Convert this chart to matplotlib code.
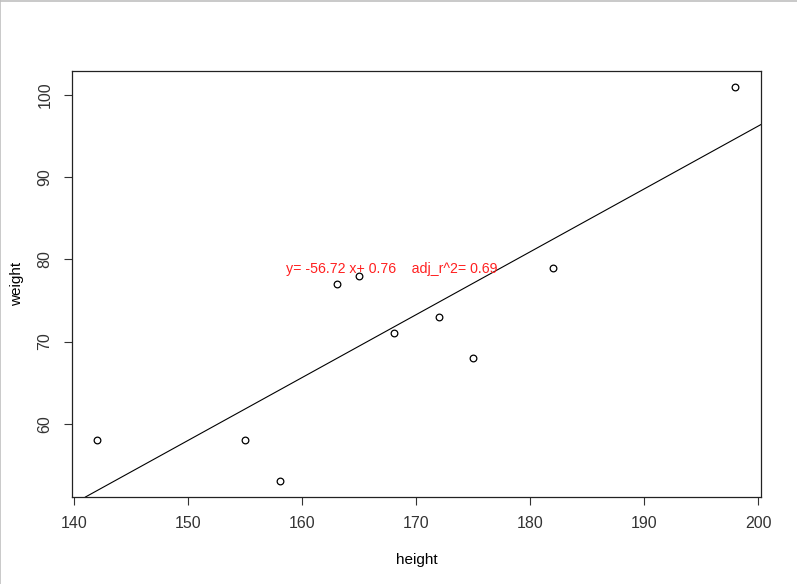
import matplotlib.pyplot as plt
import numpy as np

plt.rcParams['font.family'] = ['Liberation Sans', 'DejaVu Sans']

# height / weight data
height = np.array([142, 155, 158, 163, 165, 168, 172, 175, 182, 198])
weight = np.array([58, 58, 53, 77, 78, 71, 73, 68, 79, 101])

xticks = [140, 150, 160, 170, 180, 190, 200]
yticks = [60, 70, 80, 90, 100]

# linear fit
b1, b0 = np.polyfit(height, weight, 1)
yhat = b0 + b1 * height
ss_res = np.sum((weight - yhat) ** 2)
ss_tot = np.sum((weight - weight.mean()) ** 2)
n = len(height)
r2 = 1 - ss_res / ss_tot
adj_r2 = 1 - (1 - r2) * (n - 1) / (n - 2)

fig = plt.figure(figsize=(7.97, 5.84), dpi=100)
ax = fig.add_axes([71.7 / 797, 1 - 497 / 584, (761 - 71.7) / 797, (497 - 71) / 584])

ax.plot(height, weight, 'o', mfc='none', mec='black', ms=4.8, mew=0.9)
ax.axline((0, b0), slope=b1, color='black', lw=0.8)

# R-style 4% axis extension
xr = height.max() - height.min()
yr = weight.max() - weight.min()
ax.set_xlim(height.min() - 0.04 * xr, height.max() + 0.04 * xr)
ax.set_ylim(weight.min() - 0.04 * yr, weight.max() + 0.04 * yr)

ax.set_xticks(xticks)
ax.set_yticks(yticks)
ax.tick_params(direction='out', length=5.8, width=0.8, pad=8, labelsize=11.5, colors='#333333')
ax.tick_params(axis='y', labelrotation=90)
for lab in ax.get_yticklabels():
    lab.set_va('center')
for s in ax.spines.values():
    s.set_linewidth(0.9)
    s.set_color('#222222')

ax.set_xlabel('height', fontsize=11, labelpad=16)
ax.set_ylabel('weight', fontsize=11, labelpad=10)

ax.text(height.mean(), 78.8,
        'y= %.2f x+ %.2f    adj_r^2= %.2f' % (b0, b1, adj_r2),
        color='#ff2020', fontsize=10.2, ha='center', va='center')

# light window border at top and left
fig.add_artist(plt.Line2D([0, 1], [0.999, 0.999], color='#c0c0c0', lw=1.2, transform=fig.transFigure))
fig.add_artist(plt.Line2D([0.0006, 0.0006], [0, 1], color='#c0c0c0', lw=1.2, transform=fig.transFigure))

fig.savefig('out.png', dpi=100)
